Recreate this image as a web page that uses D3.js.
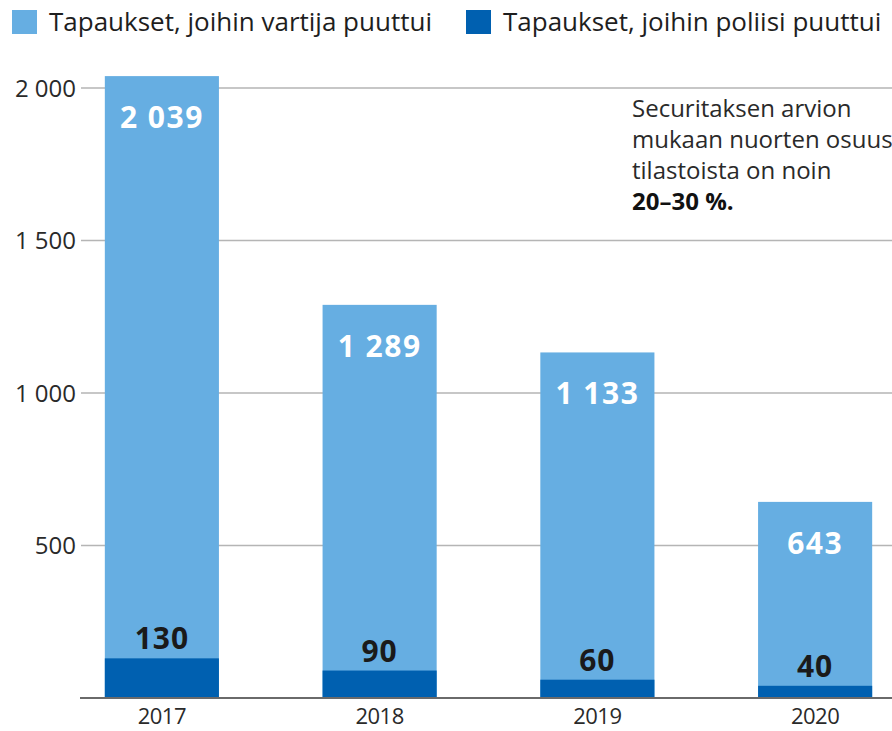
<!DOCTYPE html>
<html>
<head>
<meta charset="utf-8">
<script src="https://cdn.jsdelivr.net/npm/d3@7"></script>
<style>
  body { margin: 0; background: #fff; }
  text { font-family: "Open Sans", Lato, sans-serif; }
</style>
</head>
<body>
<div id="chart"></div>
<script>
const years = ["2017", "2018", "2019", "2020"];
const guardCases = [2039, 1289, 1133, 643];
const policeCases = [130, 90, 60, 40];
const yTicks = [500, 1000, 1500, 2000];
const legendLabels = ["Tapaukset, joihin vartija puuttui", "Tapaukset, joihin poliisi puuttui"];
const noteLines = ["Securitaksen arvion", "mukaan nuorten osuus", "tilastoista on noin"];
const noteBold = "20–30 %.";

const width = 892;
const height = 731;
const lightBlue = "#66aee2";
const darkBlue = "#0060b0";

const fmt = v => d3.format(",")(v).replace(/,/g, " ");

const svg = d3.select("#chart").append("svg")
    .attr("width", width)
    .attr("height", height)
    .style("display", "block");

const x = d3.scaleBand()
    .domain(years)
    .range([53, 924])
    .paddingInner(0.476)
    .paddingOuter(0.238);

const y = d3.scaleLinear()
    .domain([0, 2000])
    .range([698, 88]);

// gridlines + y labels
const grid = svg.append("g");
grid.selectAll("line")
    .data(yTicks)
    .enter().append("line")
    .attr("x1", 81).attr("x2", width)
    .attr("y1", d => y(d)).attr("y2", d => y(d))
    .attr("stroke", "#b5b5b5")
    .attr("stroke-width", 1.5);

grid.selectAll("text")
    .data(yTicks)
    .enter().append("text")
    .attr("x", 76)
    .attr("y", d => y(d))
    .attr("dy", "0.36em")
    .attr("text-anchor", "end")
    .attr("font-size", 24)
    .attr("fill", "#2a2a2a")
    .text(d => fmt(d));

// bars
const bars = svg.append("g");
bars.selectAll("rect.guard")
    .data(guardCases)
    .enter().append("rect")
    .attr("class", "guard")
    .attr("x", (d, i) => x(years[i]))
    .attr("width", x.bandwidth())
    .attr("y", d => y(d))
    .attr("height", d => y(0) - y(d))
    .attr("fill", lightBlue);

bars.selectAll("rect.police")
    .data(policeCases)
    .enter().append("rect")
    .attr("class", "police")
    .attr("x", (d, i) => x(years[i]))
    .attr("width", x.bandwidth())
    .attr("y", d => y(d))
    .attr("height", d => y(0) - y(d))
    .attr("fill", darkBlue);

// baseline
svg.append("line")
    .attr("x1", 80).attr("x2", width)
    .attr("y1", y(0)).attr("y2", y(0))
    .attr("stroke", "#6a6a6a")
    .attr("stroke-width", 2);

// value labels
svg.append("g").selectAll("text")
    .data(guardCases)
    .enter().append("text")
    .attr("x", (d, i) => x(years[i]) + x.bandwidth() / 2)
    .attr("y", d => y(d) + 52)
    .attr("text-anchor", "middle")
    .attr("font-size", 30)
    .attr("font-weight", "bold")
    .attr("letter-spacing", 1.5)
    .attr("fill", "#fff")
    .text(d => fmt(d));

svg.append("g").selectAll("text")
    .data(policeCases)
    .enter().append("text")
    .attr("x", (d, i) => x(years[i]) + x.bandwidth() / 2)
    .attr("y", d => y(d) - 9)
    .attr("text-anchor", "middle")
    .attr("font-size", 30)
    .attr("font-weight", "bold")
    .attr("letter-spacing", 1)
    .attr("fill", "#1a1a1a")
    .text(d => d);

// x labels
svg.append("g").selectAll("text")
    .data(years)
    .enter().append("text")
    .attr("x", d => x(d) + x.bandwidth() / 2)
    .attr("y", 724)
    .attr("text-anchor", "middle")
    .attr("font-size", 22)
    .attr("letter-spacing", -0.5)
    .attr("fill", "#2a2a2a")
    .text(d => d);

// legend
const legendX = [12, 466];
const legendColors = [lightBlue, darkBlue];
const legend = svg.append("g").selectAll("g")
    .data(legendLabels)
    .enter().append("g")
    .attr("transform", (d, i) => `translate(${legendX[i]},10)`);
legend.append("rect")
    .attr("width", 25).attr("height", 24)
    .attr("fill", (d, i) => legendColors[i]);
legend.append("text")
    .attr("x", 37)
    .attr("y", 12)
    .attr("dy", "0.36em")
    .attr("font-size", 26)
    .attr("fill", "#1e1e1e")
    .text(d => d);

// note
const note = svg.append("text")
    .attr("x", 632)
    .attr("y", 117)
    .attr("font-size", 24)
    .attr("fill", "#2a2a2a");
noteLines.forEach((t, i) => {
    note.append("tspan").attr("x", 632).attr("dy", i === 0 ? 0 : 31).text(t);
});
note.append("tspan").attr("x", 632).attr("dy", 31)
    .attr("font-weight", "bold").attr("fill", "#111").text(noteBold);
</script>
</body>
</html>
